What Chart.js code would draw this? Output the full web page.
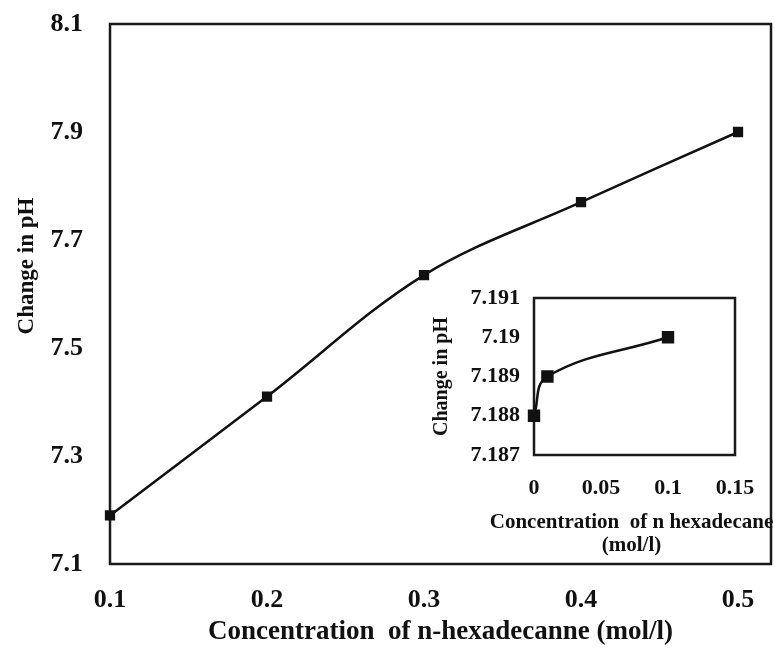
<!DOCTYPE html>
<html lang="en">
<head>
<meta charset="UTF-8">
<title>Change in pH vs n-hexadecane concentration</title>
<script src="https://cdn.jsdelivr.net/npm/chart.js"></script>
<style>
  body { margin: 0; background: #fff; }
  #wrap { position: relative; width: 775px; height: 650px; }
  #main { position: absolute; left: 0; top: 0; }
  #inset { position: absolute; left: 420px; top: 280px; }
</style>
</head>
<body>
<div id="wrap">
  <canvas id="main" width="775" height="650"></canvas>
  <canvas id="inset" width="355" height="280"></canvas>
</div>
<script>
  // main curve
  const concentrations = [0.1, 0.2, 0.3, 0.4, 0.5];
  const phValues = [7.19, 7.41, 7.635, 7.77, 7.9];
  const xTickValues = [0.1, 0.2, 0.3, 0.4, 0.5];
  const yTickValues = [7.1, 7.3, 7.5, 7.7, 7.9, 8.1];

  // low concentration detail
  const lowConcentrations = [0, 0.01, 0.1];
  const lowPhValues = [7.188, 7.189, 7.19];
  const insetXTickValues = [0, 0.05, 0.1, 0.15];
  const insetYTickValues = [7.187, 7.188, 7.189, 7.19, 7.191];

  const SERIF = '"Liberation Serif", "Times New Roman", serif';
  Chart.defaults.font.family = SERIF;
  Chart.defaults.font.weight = 'bold';
  Chart.defaults.color = '#111';

  function toPoints(xs, ys) {
    return xs.map((x, i) => ({ x: x, y: ys[i] }));
  }
  function fixedTicks(values) {
    return scale => { scale.ticks = values.map(v => ({ value: v })); };
  }
  // fixed axis thickness; the plot box is placed by layout.padding alone
  function fixedSize(size) {
    return scale => {
      if (scale.isHorizontal()) scale.height = size; else scale.width = size;
      scale.paddingTop = scale.paddingBottom = 0;
      scale.paddingLeft = scale.paddingRight = 0;
    };
  }

  // box around the plot area
  const frame = {
    id: 'frame',
    beforeDatasetsDraw(chart) {
      const a = chart.chartArea, ctx = chart.ctx;
      ctx.save();
      ctx.strokeStyle = '#1a1a1a';
      ctx.lineWidth = 2.5;
      ctx.strokeRect(a.left, a.top, a.right - a.left, a.bottom - a.top);
      ctx.restore();
    }
  };

  // vertical y caption, sitting a little above the middle of the axis
  const yCaption = {
    id: 'yCaption',
    afterDraw(chart) {
      const ctx = chart.ctx, a = chart.chartArea;
      ctx.save();
      ctx.translate(27, (a.top + a.bottom) / 2 - 28);
      ctx.rotate(-Math.PI / 2);
      ctx.font = 'bold 23px ' + SERIF;
      ctx.fillStyle = '#111';
      ctx.textAlign = 'center';
      ctx.textBaseline = 'middle';
      ctx.fillText('Change in pH', 0, 0);
      ctx.restore();
    }
  };

  new Chart(document.getElementById('main'), {
    type: 'scatter',
    data: {
      datasets: [{
        data: toPoints(concentrations, phValues),
        showLine: true,
        borderColor: '#111',
        backgroundColor: '#111',
        borderWidth: 2.5,
        tension: 0.35,
        pointStyle: 'rect',
        pointRadius: 5.5,
        clip: 8
      }]
    },
    options: {
      responsive: false,
      animation: false,
      layout: { autoPadding: false, padding: { top: 24, right: 4, left: 0, bottom: 0 } },
      plugins: { legend: { display: false }, tooltip: { enabled: false } },
      scales: {
        x: {
          type: 'linear',
          min: 0.1,
          max: 0.521,
          afterBuildTicks: fixedTicks(xTickValues),
          afterFit: fixedSize(86),
          grid: { display: false, drawTicks: false },
          border: { display: false },
          ticks: {
            padding: 21,
            font: { size: 26, weight: 'bold' },
            color: '#111',
            callback: v => v.toFixed(1)
          },
          title: {
            display: true,
            text: 'Concentration  of n-hexadecanne (mol/l)',
            font: { size: 27, weight: 'bold' },
            color: '#111',
            padding: { top: 0, bottom: 2 }
          }
        },
        y: {
          type: 'linear',
          min: 7.1,
          max: 8.1,
          afterBuildTicks: fixedTicks(yTickValues),
          afterFit: fixedSize(110),
          grid: { display: false, drawTicks: false },
          border: { display: false },
          ticks: {
            padding: 27,
            font: { size: 26, weight: 'bold' },
            color: '#111',
            callback: v => v.toFixed(1)
          }
        }
      }
    },
    plugins: [frame, yCaption]
  });

  // two-line axis caption under the small chart, wider than its plot area
  const insetCaption = {
    id: 'insetCaption',
    afterDraw(chart) {
      const ctx = chart.ctx, a = chart.chartArea;
      const cx = (a.left + a.right) / 2 - 3;
      ctx.save();
      ctx.font = 'bold 21px ' + SERIF;
      ctx.fillStyle = '#111';
      ctx.textAlign = 'center';
      ctx.textBaseline = 'middle';
      ctx.fillText('Concentration  of n hexadecane', cx, a.bottom + 68);
      ctx.fillText('(mol/l)', cx, a.bottom + 91);
      ctx.restore();
    }
  };

  new Chart(document.getElementById('inset'), {
    type: 'scatter',
    data: {
      datasets: [{
        data: toPoints(lowConcentrations, lowPhValues),
        showLine: true,
        borderColor: '#111',
        backgroundColor: '#111',
        borderWidth: 2.5,
        tension: 0.4,
        pointStyle: 'rect',
        pointRadius: 7,
        clip: 10
      }]
    },
    options: {
      responsive: false,
      animation: false,
      layout: { autoPadding: false, padding: { top: 18, right: 40, left: 0, bottom: 0 } },
      plugins: { legend: { display: false }, tooltip: { enabled: false } },
      scales: {
        x: {
          type: 'linear',
          min: 0,
          max: 0.15,
          afterBuildTicks: fixedTicks(insetXTickValues),
          afterFit: fixedSize(105),
          grid: { display: false, drawTicks: false },
          border: { display: false },
          ticks: {
            padding: 20,
            font: { size: 22, weight: 'bold' },
            color: '#111',
            callback: v => String(+v.toFixed(2))
          }
        },
        y: {
          type: 'linear',
          min: 7.187,
          max: 7.191,
          afterBuildTicks: fixedTicks(insetYTickValues),
          afterFit: fixedSize(114),
          grid: { display: false, drawTicks: false },
          border: { display: false },
          ticks: {
            padding: 14,
            font: { size: 22, weight: 'bold' },
            color: '#111',
            callback: v => String(+v.toFixed(3))
          },
          title: {
            display: true,
            text: 'Change in pH',
            font: { size: 20, weight: 'bold' },
            color: '#111',
            padding: { top: 10, bottom: 0 }
          }
        }
      }
    },
    plugins: [frame, insetCaption]
  });
</script>
</body>
</html>
